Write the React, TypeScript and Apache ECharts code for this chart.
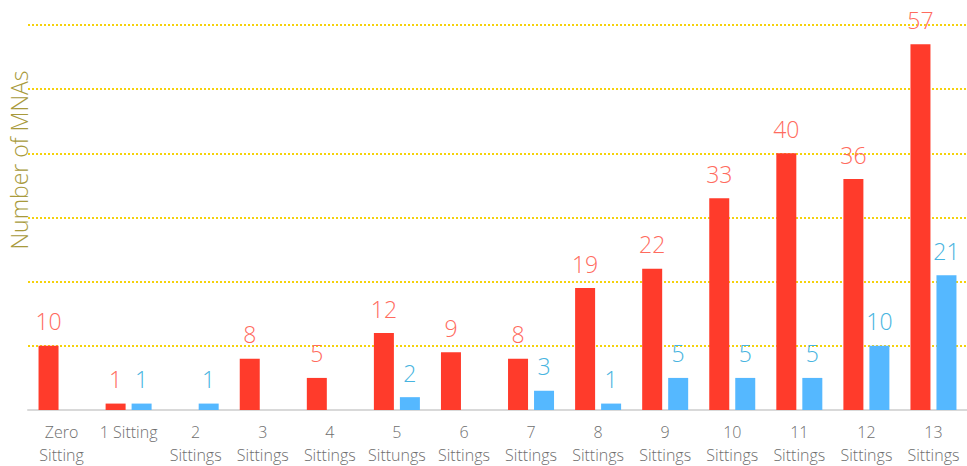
import React, { useEffect, useRef } from "react";
import * as echarts from "echarts";

const categories = [
  "Zero\nSitting",
  "1 Sitting",
  "2\nSittings",
  "3\nSittings",
  "4\nSittings",
  "5\nSittungs",
  "6\nSittings",
  "7\nSittings",
  "8\nSittings",
  "9\nSittings",
  "10\nSittings",
  "11\nSittings",
  "12\nSittings",
  "13\nSittings",
];

const redValues: (number | null)[] = [10, 1, null, 8, 5, 12, 9, 8, 19, 22, 33, 40, 36, 57];
const blueValues: (number | null)[] = [null, 1, 1, null, null, 2, null, 3, 1, 5, 5, 5, 10, 21];

const yAxisTitle = "Number of MNAs";
const FONT = "'Open Sans', Lato, sans-serif";

export default function App() {
  const ref = useRef<HTMLDivElement>(null);
  useEffect(() => {
    if (!ref.current) return;
    const chart = echarts.init(ref.current, null, { renderer: "svg" });
    chart.setOption({
      animation: false,
      textStyle: { fontFamily: FONT, fontWeight: 300 },
      grid: { left: 28, right: 0, top: 25, bottom: 56, containLabel: false },
      graphic: [
        {
          type: "text",
          x: 19,
          y: 160,
          rotation: Math.PI / 2,
          style: {
            text: yAxisTitle,
            fill: "#a89a3c",
            font: `300 23px ${FONT}`,
            textAlign: "center",
            textVerticalAlign: "middle",
          },
        },
      ],
      xAxis: {
        type: "category",
        data: categories,
        axisLine: { show: true, lineStyle: { color: "#d9d9d9", width: 2 } },
        axisTick: { show: false },
        axisLabel: {
          color: "#6e6e6e",
          fontSize: 16,
          fontWeight: 300,
          lineHeight: 23,
          margin: 10,
          interval: 0,
          fontFamily: FONT,
        },
      },
      yAxis: {
        type: "value",
        min: 0,
        max: 60,
        interval: 10,
        axisLabel: { show: false },
        axisLine: { show: false },
        axisTick: { show: false },
        splitLine: {
          show: true,
          lineStyle: { color: "#f5d20c", type: [2, 2], width: 2 },
        },
      },
      series: [
        {
          type: "bar",
          data: redValues,
          barWidth: 20,
          barGap: "30%",
          itemStyle: { color: "#ff3b2b" },
          label: {
            show: true,
            position: "top",
            distance: 13,
            color: "#ff6b5e",
            fontSize: 23,
            fontWeight: 300,
            fontFamily: FONT,
          },
        },
        {
          type: "bar",
          data: blueValues,
          barWidth: 20,
          itemStyle: { color: "#55b8ff" },
          label: {
            show: true,
            position: "top",
            distance: 13,
            color: "#47b4e0",
            fontSize: 23,
            fontWeight: 300,
            fontFamily: FONT,
          },
        },
      ],
    });
    return () => chart.dispose();
  }, []);
  return <div ref={ref} style={{ width: 967, height: 466, position: "absolute", left: 0, top: 0 }} />;
}
